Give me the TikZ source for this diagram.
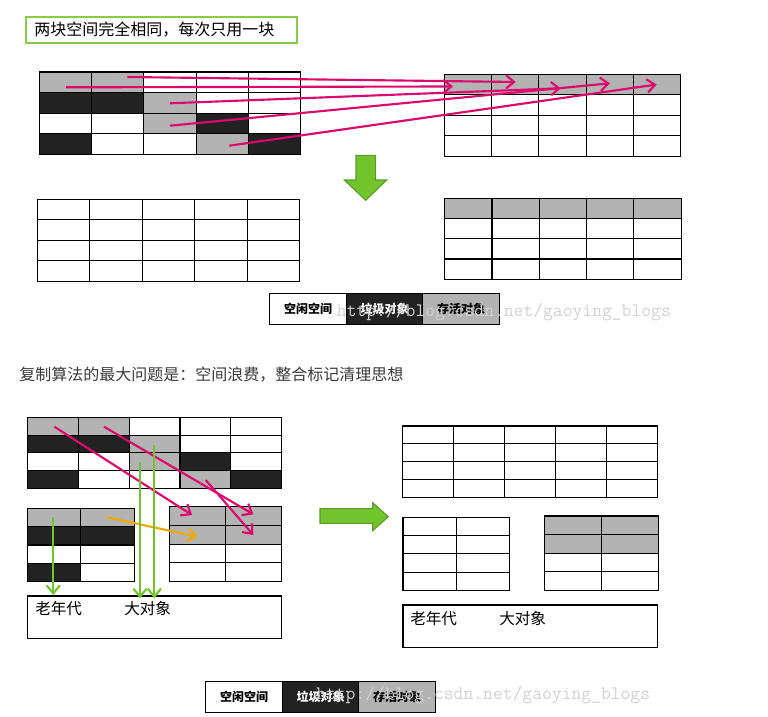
\documentclass[tikz,border=0pt]{standalone}
\usepackage{fontspec}
\setmainfont{Noto Sans CJK SC}
\usetikzlibrary{positioning,arrows.meta}
\definecolor{live}{HTML}{B3B3B3}
\definecolor{dead}{HTML}{222222}
\colorlet{free}{white}
\definecolor{pink}{HTML}{DC0A6E}
\definecolor{grass}{HTML}{72C42C}
\definecolor{grassdark}{HTML}{5A9A2A}
\definecolor{amber}{HTML}{F5A700}
\definecolor{framegreen}{HTML}{86CC4A}
\definecolor{caption}{HTML}{3A3A3A}
\definecolor{wmgray}{HTML}{D2D2D2}

% one heap: name, left, top, cell width, cell height, rows of cell colours
\newcommand\heap[6]{%
  \foreach \row [count=\j] in {#6}{
    \foreach \c [count=\i] in \row {
      \node[cell, fill=\c, minimum width=#4*0.75pt, minimum height=#5*0.75pt]
        (#1-\j-\i) at ({#2+(\i-0.5)*#4},{#3+(\j-0.5)*#5}) {};
    }
  }
}
% legend: name, centre of first box
\newcommand\keyrow[3]{%
  \node[keybox, fill=free] (#1f) at (#2,#3) {空闲空间};
  \node[keybox, fill=dead, text=white, right=0pt of #1f] (#1d) {垃圾对象};
  \node[keybox, fill=live, right=0pt of #1d] (#1l) {存活对象};
}

\begin{document}
\begin{tikzpicture}[x=0.75pt,y=-0.75pt]
    \tikzset{%
      cell/.style={draw, line width=0.8pt, inner sep=0pt, outer sep=0pt},
      keybox/.style={draw, line width=0.6pt, inner sep=0pt, outer sep=0pt,
        minimum width=76.5*0.75pt, minimum height=31*0.75pt,
        font=\fontsize{9}{10}\selectfont\bfseries},
      titlebox/.style={draw=framegreen, line width=1.5pt, minimum
        width=271*0.75pt, minimum height=26*0.75pt},
      oldbox/.style={draw, line width=0.8pt, inner sep=0pt},
      oldtext/.style={anchor=west, inner sep=0pt, font=\fontsize{11.7}{13}\selectfont},
      block/.style={fill=grass, draw=grassdark, line width=0.8pt},
      mover/.style={draw=pink, line width=1.6pt,
        -{Straight Barb[length=6pt,width=10pt]}},
      promote/.style={draw=grass, line width=1.6pt,
        -{Straight Barb[length=6pt,width=10pt]}},
      older/.style={draw=amber, line width=1.6pt,
        -{Straight Barb[length=6pt,width=10pt]}},
      watermark/.style={text=wmgray, anchor=west, inner sep=0pt,
        font=\ttfamily\fontsize{14.3}{16}\selectfont},
    }
    \path[fill=white] (0,0) rectangle (768,717);

    \node[titlebox] (title) at (161.5,30) {};
    \node[anchor=west, inner sep=0pt, font=\fontsize{12}{14}\selectfont]
      (titletext) at (34,30) {两块空间完全相同，每次只用一块};

    % first half: copy live objects
    \heap{tl}{39.3}{72}{52.3}{20.6}{{live,live,free,free,free},{dead,dead,live,free,free},{free,free,live,dead,free},{dead,free,free,live,dead}}
    \heap{tr}{444.3}{74.3}{47.3}{20.5}{{live,live,live,live,live},{free,free,free,free,free},{free,free,free,free,free},{free,free,free,free,free}}
    \heap{bl}{37.3}{199.3}{52.5}{20.5}{{free,free,free,free,free},{free,free,free,free,free},{free,free,free,free,free},{free,free,free,free,free}}
    \heap{br}{444.7}{198.7}{47.3}{20.1}{{live,live,live,live,live},{free,free,free,free,free},{free,free,free,free,free},{free,free,free,free,free}}

    \coordinate (s1) at (127.3,77);   \coordinate (e1) at (515.7,82);
    \coordinate (s2) at (66,87.3);    \coordinate (e2) at (453,86.5);
    \coordinate (s3) at (170,103.3);  \coordinate (e3) at (560.7,88.3);
    \coordinate (s4) at (170,125.7);  \coordinate (e4) at (610,83.3);
    \coordinate (s5) at (229.3,145.7); \coordinate (e5) at (656.7,84.5);
    \foreach \k in {1,...,5}
      \draw[mover] (s\k) -- (e\k);

    \draw[block] (356,155.3) -- (375.3,155.3) -- (375.3,180) -- (386.7,180)
      -- (365.7,200.3) -- (344.3,180) -- (356,180) -- cycle;

    \keyrow{ka}{308}{308.7}

    \node[anchor=west, inner sep=0pt, text=caption, font=\fontsize{12}{14}\selectfont]
      (question) at (19,375) {复制算法的最大问题是：空间浪费，整合标记清理思想};

    % second half: eden, two survivors, old generation
    \heap{ha}{27.3}{417.3}{50.9}{17.75}{{live,live,free,free,free},{dead,dead,live,free,free},{free,free,live,dead,free},{dead,free,free,live,dead}}
    \heap{hb}{27.3}{508.3}{53.5}{18.35}{{live,live},{dead,dead},{free,free},{dead,free}}
    \heap{hc}{169.3}{506.7}{56.2}{18.75}{{live,live},{live,live},{free,free},{free,free}}
    \node[oldbox, minimum width=254.4*0.75pt, minimum height=42.7*0.75pt]
      (oldL) at (154.5,617.35) {};
    \node[oldtext] (oldLa) at (35,609) {老年代};
    \node[oldtext] (oldLb) at (124,609) {大对象};

    \coordinate (m1s) at (54.3,426.7);  \coordinate (m1e) at (192,515);
    \coordinate (m2s) at (104,426.7);   \coordinate (m2e) at (253.3,514.3);
    \coordinate (m3s) at (205.7,480);   \coordinate (m3e) at (253.3,535);
    \coordinate (o1s) at (107.3,517.3); \coordinate (o1e) at (197.3,536.7);
    \coordinate (g1s) at (53.3,517.3);  \coordinate (g1e) at (53.3,595);
    \coordinate (g2s) at (140,461.7);   \coordinate (g2e) at (140,598.3);
    \coordinate (g3s) at (154.3,445);   \coordinate (g3e) at (154.3,598.3);
    \foreach \k in {1,2,3}
      \draw[mover] (m\k s) -- (m\k e);
    \draw[older] (o1s) -- (o1e);
    \foreach \k in {1,2,3}
      \draw[promote] (g\k s) -- (g\k e);

    \draw[block] (320,508.7) -- (372.7,508.7) -- (372.7,502.7) -- (388.3,516.7)
      -- (372.7,530.7) -- (372.7,523.3) -- (320,523.3) -- cycle;

    \heap{he}{402.3}{426}{51.1}{17.8}{{free,free,free,free,free},{free,free,free,free,free},{free,free,free,free,free},{free,free,free,free,free}}
    \heap{hf}{403}{517.3}{53.35}{18.25}{{free,free},{free,free},{free,free},{free,free}}
    \heap{hg}{544.7}{516}{57}{18.6}{{live,live},{live,live},{free,free},{free,free}}
    \node[oldbox, minimum width=254.7*0.75pt, minimum height=42.3*0.75pt]
      (oldR) at (530.35,626.15) {};
    \node[oldtext] (oldRa) at (410,618.3) {老年代};
    \node[oldtext] (oldRb) at (499,618.3) {大对象};

    \keyrow{kb}{244}{696.7}

    \node[watermark] (wm1) at (336.7,312) {http://blog.csdn.net/gaoying\_blogs};
    \node[watermark] (wm2) at (316,695.5) {http://blog.csdn.net/gaoying\_blogs};
\end{tikzpicture}
\end{document}
